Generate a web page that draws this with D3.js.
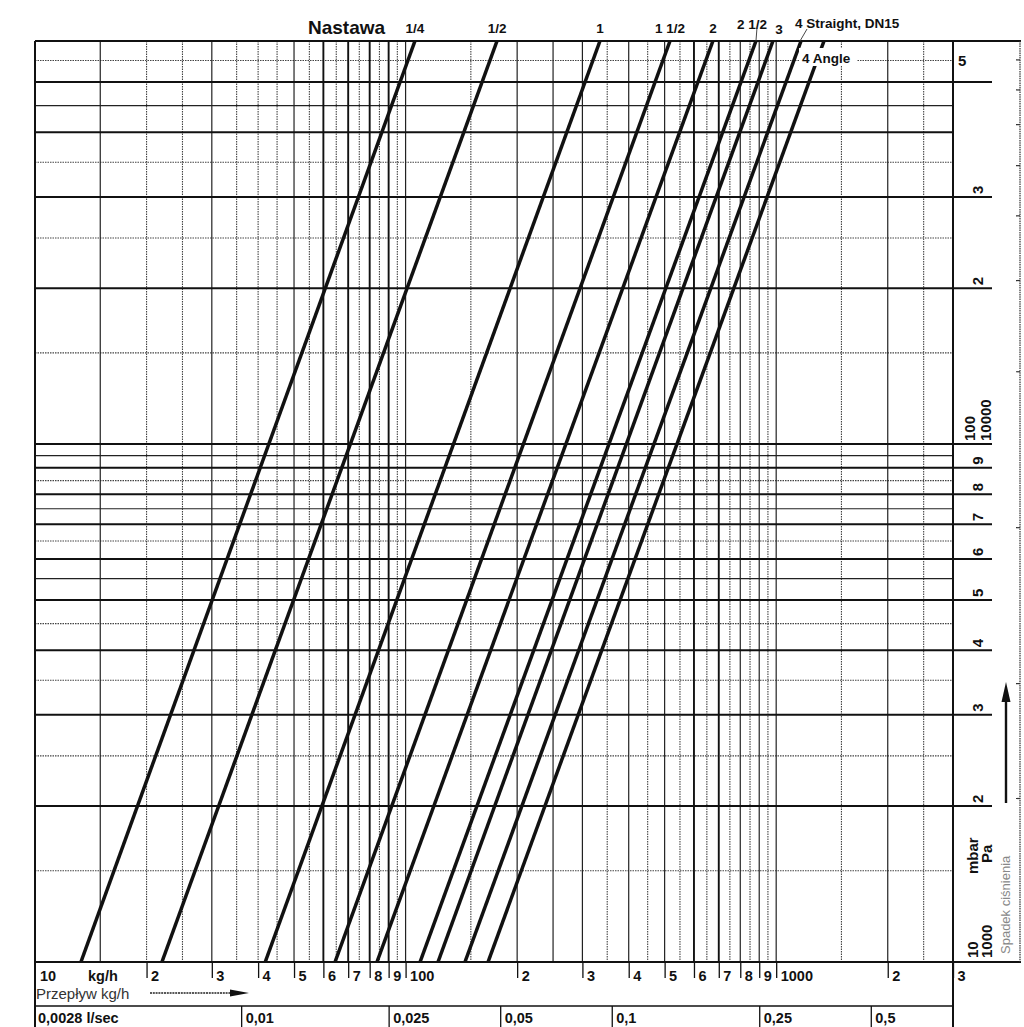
<!DOCTYPE html>
<html>
<head>
<meta charset="utf-8">
<script src="https://cdn.jsdelivr.net/npm/d3@7"></script>
<style>
  html, body { margin: 0; padding: 0; background: #fff; }
  svg { display: block; }
  text { font-family: "Liberation Sans", Arial, sans-serif; }
</style>
</head>
<body>
<svg id="chart" width="1024" height="1027"></svg>
<script>
// ---------------- DATA ----------------
const settings = ["1/4", "1/2", "1", "1 1/2", "2", "2 1/2", "3", "4 Straight, DN15", "4 Angle"];
// flow (kg/h) where each setting's line crosses 10 mbar and 600 mbar
const flowAt10mbar  = [13.3, 22.0, 41.8, 64.5, 83.7, 109.4, 122.3, 144.6, 166.9];
const flowAt600mbar = [106, 176.5, 334.6, 517, 675, 882, 980, 1167, 1346];

// pressure-drop axis (mbar)
const pressureRange = [10, 600];
const yGridThick  = [20, 30, 40, 50, 60, 70, 80, 90, 100, 200, 300, 400, 500];
const yGridThin   = [55, 75, 95, 450];
const yGridDotted = [15, 25, 35, 45, 65, 85, 150, 250, 350, 550];
const yLabelled   = [20, 30, 40, 50, 60, 70, 80, 90, 100, 200, 300, 500];
const yLabelText  = ["2", "3", "4", "5", "6", "7", "8", "9", "100", "2", "3", "5"];

// flow axis (kg/h)
const flowRange = [10, 3000];
const xGridThick  = [60, 70, 80, 90, 600, 700];
const xGridThin   = [15, 30, 50, 100, 200, 250, 300, 400, 500, 800, 900, 1000, 2000];
const xGridDotted = [20, 25, 35, 40, 45, 55, 65, 75, 85, 95, 150, 350, 450, 550, 650, 750, 850, 950, 1500, 2500];
const kgTicks  = [20, 30, 40, 50, 60, 70, 80, 90, 100, 200, 300, 400, 500, 600, 700, 800, 900, 1000, 2000, 3000];
const kgLabels = ["2", "3", "4", "5", "6", "7", "8", "9", "100", "2", "3", "4", "5", "6", "7", "8", "9", "1000", "2", "3"];

// volume flow axis (l/sec)
const lpsTicks  = [0.01, 0.025, 0.05, 0.1, 0.25, 0.5];
const lpsLabels = ["0,01", "0,025", "0,05", "0,1", "0,25", "0,5"];
const kgPerLps = 3600;

// secondary right scale (psi) — unlabeled ticks
const psiTicks = [0.3, 0.5, 1, 2, 3, 4, 5, 6, 7, 8];
const mbarPerPsi = 68.95;

// ---------------- LAYOUT ----------------
const L = 35, R = 953, T = 41, B = 962;
const FONT = '"Liberation Sans", Arial, sans-serif';

const svg = d3.select("#chart");
svg.append("rect").attr("width", 1024).attr("height", 1027).attr("fill", "#fff");

const x = d3.scaleLog().domain(flowRange).range([L, R]);
const y = d3.scaleLog().domain(pressureRange).range([B, T]);

const grid = svg.append("g");
function vlines(vals, w, color, dash) {
  grid.selectAll(null).data(vals).enter().append("line")
    .attr("x1", d => x(d)).attr("x2", d => x(d))
    .attr("y1", T).attr("y2", B)
    .attr("stroke", color).attr("stroke-width", w)
    .attr("stroke-dasharray", dash || null);
}
function hlines(vals, w, color, dash) {
  grid.selectAll(null).data(vals).enter().append("line")
    .attr("x1", L).attr("x2", d => yLabelled.includes(d) ? 992 : R)
    .attr("y1", d => y(d)).attr("y2", d => y(d))
    .attr("stroke", color).attr("stroke-width", w)
    .attr("stroke-dasharray", dash || null);
}
vlines(xGridDotted, 1.1, "#444", "1.5,1");
hlines(yGridDotted, 1.1, "#444", "1.5,1");
vlines(xGridThin, 1.2, "#222");
hlines(yGridThin, 1.2, "#222");
vlines(xGridThick, 1.9, "#111");
hlines(yGridThick, 2, "#111");

// frame
const frame = svg.append("g").attr("stroke", "#111");
frame.append("line").attr("x1", L).attr("x2", 1021).attr("y1", T).attr("y2", T).attr("stroke-width", 2.2);
frame.append("line").attr("x1", L).attr("x2", 1021).attr("y1", B).attr("y2", B).attr("stroke-width", 2.2);
frame.append("line").attr("x1", L).attr("x2", L).attr("y1", T).attr("y2", 1027).attr("stroke-width", 2);
frame.append("line").attr("x1", R).attr("x2", R).attr("y1", T).attr("y2", 1027).attr("stroke-width", 2);
frame.append("line").attr("x1", L).attr("x2", R).attr("y1", 1006).attr("y2", 1006).attr("stroke-width", 1.3);

// right outer psi scale
svg.append("line").attr("x1", 1020).attr("x2", 1020).attr("y1", T).attr("y2", B)
  .attr("stroke", "#333").attr("stroke-width", 1.2).attr("stroke-dasharray", "1.5,0.8");
svg.append("g").selectAll("line").data(psiTicks).enter().append("line")
  .attr("x1", 1016).attr("x2", 1020)
  .attr("y1", d => y(d * mbarPerPsi)).attr("y2", d => y(d * mbarPerPsi))
  .attr("stroke", "#333").attr("stroke-width", 1.2);

// ---------------- CURVES ----------------
svg.append("clipPath").attr("id", "plotclip").append("rect")
  .attr("x", L).attr("y", T).attr("width", R - L).attr("height", B - T);
const lineGen = d3.line().x(d => x(d[0])).y(d => y(d[1]));
svg.append("g").attr("clip-path", "url(#plotclip)")
  .selectAll("path").data(settings).enter().append("path")
  .attr("d", (s, i) => lineGen([[flowAt10mbar[i], pressureRange[0]], [flowAt600mbar[i], pressureRange[1]]]))
  .attr("fill", "none").attr("stroke", "#111").attr("stroke-width", 3.5);

// ---------------- BOTTOM AXES ----------------
const axKg = svg.append("g").attr("transform", `translate(0,${B})`)
  .call(d3.axisBottom(x).tickValues(kgTicks).tickSize(16)
    .tickFormat((d, i) => kgLabels[i]));
axKg.select(".domain").remove();
axKg.selectAll(".tick line").attr("stroke", "#111").attr("stroke-width", 1.3);
axKg.selectAll(".tick text")
  .attr("text-anchor", "start").attr("x", 4).attr("y", 19).attr("dy", 0)
  .attr("fill", "#111").style("font-family", FONT).style("font-size", "14.5px").style("font-weight", "bold");

svg.append("text").attr("x", 40).attr("y", 981).text("10")
  .attr("fill", "#111").style("font-size", "14.5px").style("font-weight", "bold");
svg.append("text").attr("x", 88).attr("y", 981).text("kg/h")
  .attr("fill", "#111").style("font-size", "14.5px").style("font-weight", "bold");

svg.append("text").attr("x", 36).attr("y", 999).text("Przepływ kg/h")
  .attr("fill", "#333").style("font-size", "15px");
svg.append("line").attr("x1", 150).attr("x2", 234).attr("y1", 993).attr("y2", 993)
  .attr("stroke", "#222").attr("stroke-width", 1.6).attr("stroke-dasharray", "2,0.8");
svg.append("path").attr("d", "M230,989.5 L249,993 L230,996.5 Z").attr("fill", "#111");

const axL = svg.append("g").attr("transform", "translate(0,1006)")
  .call(d3.axisBottom(x).tickValues(lpsTicks.map(v => v * kgPerLps)).tickSize(21)
    .tickFormat((d, i) => lpsLabels[i]));
axL.select(".domain").remove();
axL.selectAll(".tick line").attr("stroke", "#111").attr("stroke-width", 1.3);
axL.selectAll(".tick text")
  .attr("text-anchor", "start").attr("x", 4).attr("y", 17).attr("dy", 0)
  .attr("fill", "#111").style("font-family", FONT).style("font-size", "14.5px").style("font-weight", "bold");
svg.append("text").attr("x", 38).attr("y", 1023).text("0,0028 l/sec")
  .attr("fill", "#111").style("font-size", "14.5px").style("font-weight", "bold");

// ---------------- RIGHT LABELS ----------------
const rl = svg.append("g").attr("fill", "#111").style("font-size", "15px").style("font-weight", "bold");
yLabelled.forEach((v, i) => {
  const yy = y(v);
  if (v === 500) {
    rl.append("text").attr("x", 958).attr("y", 66).text(yLabelText[i]);
  } else if (v === 100) {
    rl.append("text").attr("transform", `translate(975,${yy - 3}) rotate(-90)`).text("100");
    rl.append("text").attr("transform", `translate(991,${yy - 3}) rotate(-90)`).text("10000");
  } else {
    rl.append("text").attr("transform", `translate(983,${yy - 3}) rotate(-90)`).text(yLabelText[i]);
  }
});
rl.append("text").attr("transform", `translate(978,${B - 4}) rotate(-90)`).text("10");
rl.append("text").attr("transform", `translate(992,${B - 4}) rotate(-90)`).text("1000");
rl.append("text").attr("transform", "translate(978,874) rotate(-90)").text("mbar");
rl.append("text").attr("transform", "translate(992,863) rotate(-90)").text("Pa");

svg.append("text").attr("transform", "translate(1010,954) rotate(-90)")
  .text("Spadek ciśnienia").attr("fill", "#888").style("font-size", "13px");
svg.append("line").attr("x1", 1006).attr("x2", 1006).attr("y1", 803).attr("y2", 698)
  .attr("stroke", "#111").attr("stroke-width", 2.4);
svg.append("path").attr("d", "M1006,682 L1010.5,702 L1001.5,702 Z").attr("fill", "#111");

// ---------------- TOP LABELS ----------------
svg.append("text").attr("x", 308).attr("y", 34).text("Nastawa")
  .attr("fill", "#111").style("font-size", "19px").style("font-weight", "bold");

const topAdj = {
  "2 1/2": { dx: -4, by: 29, anchor: "middle" },
  "3": { dx: 6, by: 34, anchor: "middle" },
  "4 Straight, DN15": { dx: -6, by: 28, anchor: "start" }
};
const tl = svg.append("g").attr("fill", "#111").style("font-size", "13.5px").style("font-weight", "bold");
settings.forEach((s, i) => {
  if (s === "4 Angle") return;
  const adj = topAdj[s] || { dx: 0, by: 33, anchor: "middle" };
  tl.append("text").attr("x", x(flowAt600mbar[i]) + adj.dx).attr("y", adj.by)
    .attr("text-anchor", adj.anchor).text(s);
});
// leader lines
const i25 = settings.indexOf("2 1/2"), i4s = settings.indexOf("4 Straight, DN15");
svg.append("line").attr("x1", x(flowAt600mbar[i25]) + 1).attr("y1", 28)
  .attr("x2", x(flowAt600mbar[i25])).attr("y2", T).attr("stroke", "#333").attr("stroke-width", 0.9);
svg.append("line").attr("x1", x(flowAt600mbar[i4s]) + 6).attr("y1", 29)
  .attr("x2", x(flowAt600mbar[i4s]) - 1).attr("y2", T).attr("stroke", "#333").attr("stroke-width", 0.9);

// "4 Angle" label with white background interrupting its line
svg.append("rect").attr("x", 799).attr("y", 48).attr("width", 58).attr("height", 18).attr("fill", "#fff");
svg.append("text").attr("x", 802).attr("y", 63).text("4 Angle")
  .attr("fill", "#111").style("font-size", "13.5px").style("font-weight", "bold");
</script>
</body>
</html>
